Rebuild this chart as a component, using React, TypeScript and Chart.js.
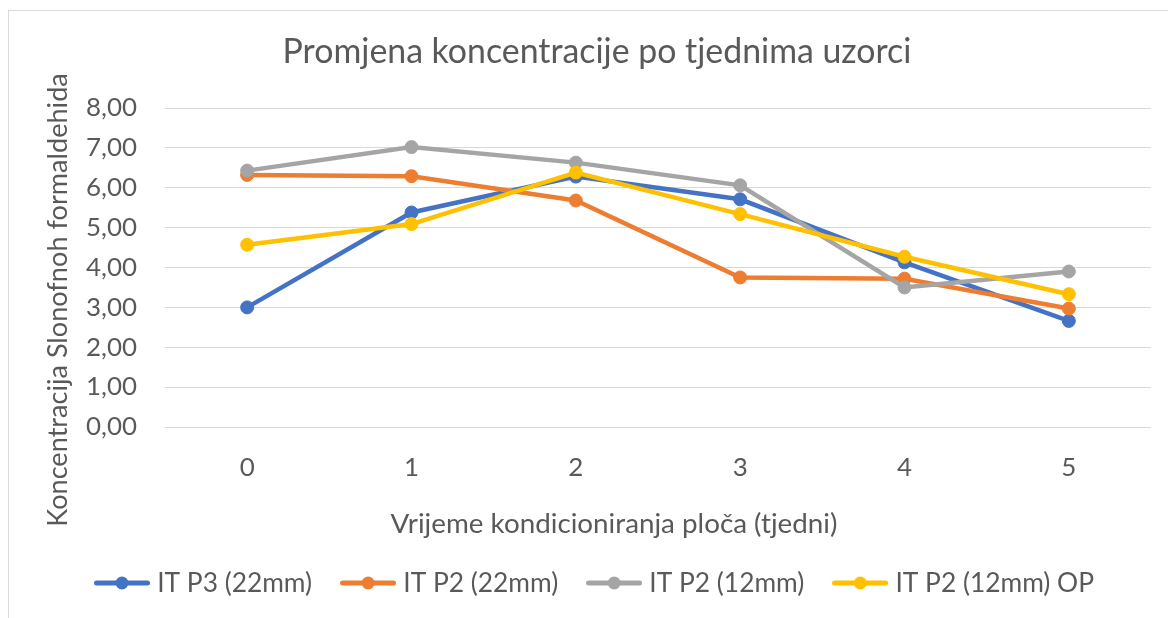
import React, { useEffect, useRef } from "react";
import { Chart, registerables } from "chart.js";

Chart.register(...registerables);

// ---- data ----
const categories = ["0", "1", "2", "3", "4", "5"];
const seriesNames = ["IT P3 (22mm)", "IT P2 (22mm)", "IT P2 (12mm)", "IT P2 (12mm) OP"];
const seriesItP3_22 = [3.0, 5.38, 6.28, 5.71, 4.13, 2.66];
const seriesItP2_22 = [6.32, 6.29, 5.68, 3.75, 3.72, 2.97];
const seriesItP2_12 = [6.43, 7.02, 6.63, 6.06, 3.5, 3.9];
const seriesItP2_12op = [4.57, 5.09, 6.38, 5.34, 4.27, 3.33];
const seriesColors = ["#4472C4", "#ED7D31", "#A5A5A5", "#FFC000"];
const yMin = 0;
const yMax = 8;
const yStep = 1;
const chartTitle = "Promjena koncentracije po tjednima uzorci";
const xAxisTitle = "Vrijeme kondicioniranja ploča (tjedni)";
const yAxisTitle = "Koncentracija Slonofnoh formaldehida";

// ---- style ----
const FONT = "Lato";
const TEXT = "#595959";
const GRID = "#D9D9D9";
const W = 1159;
const H = 607;

function makeLegendImage(color: string): HTMLCanvasElement {
  const c = document.createElement("canvas");
  c.width = 56;
  c.height = 16;
  const g = c.getContext("2d")!;
  g.strokeStyle = color;
  g.lineWidth = 5;
  g.lineCap = "round";
  g.beginPath();
  g.moveTo(2.5, 8);
  g.lineTo(53.5, 8);
  g.stroke();
  g.fillStyle = color;
  g.beginPath();
  g.arc(28, 8, 6.5, 0, Math.PI * 2);
  g.fill();
  return c;
}

export default function App() {
  const ref = useRef<HTMLCanvasElement>(null);

  useEffect(() => {
    let chart: Chart | null = null;
    let cancelled = false;

    const build = () => {
      if (cancelled || !ref.current) return;
      const m = document.createElement("canvas").getContext("2d")!;
      const fit = (text: string, width: number) => {
        m.font = `100px ${FONT}`;
        return (100 * width) / m.measureText(text).width;
      };
      const titleSize = fit(chartTitle, 629);
      const xTitleSize = fit(xAxisTitle, 447);
      const yTitleSize = fit(yAxisTitle, 454);
      const tickSize = fit("8,00", 51);
      const legendSize = fit(seriesNames[0], 155);

      const areaTop = 97;
      const areaBottom = 416;
      const titlePadTop = 41 - 0.6 * titleSize;
      const titlePadBottom = areaTop - titlePadTop - 1.2 * titleSize;
      const legendPad = 34;
      const legendTop = 572 - legendPad - legendSize / 2;
      const legendH = legendSize + legendPad + 10;
      const bottomPad = H - legendTop - legendH;
      const xHeight = legendTop - areaBottom;
      const xTickPad = 457 - areaBottom - 0.6 * tickSize;

      const legendImgs = seriesColors.map(makeLegendImage);
      const seriesData = [seriesItP3_22, seriesItP2_22, seriesItP2_12, seriesItP2_12op];

      const axisTitles = {
        id: "axisTitles",
        afterDraw(c: Chart) {
          const ctx = c.ctx;
          ctx.save();
          ctx.fillStyle = TEXT;
          ctx.textAlign = "center";
          ctx.textBaseline = "middle";
          ctx.font = `${xTitleSize}px ${FONT}`;
          ctx.fillText(xAxisTitle, 605, 513);
          ctx.translate(49, 289);
          ctx.rotate(-Math.PI / 2);
          ctx.font = `${yTitleSize}px ${FONT}`;
          ctx.fillText(yAxisTitle, 0, 0);
          ctx.restore();
        },
      };

      chart = new Chart(ref.current, {
        type: "line",
        data: {
          labels: categories,
          datasets: seriesData.map((d, i) => ({
            label: seriesNames[i],
            data: d,
            borderColor: seriesColors[i],
            backgroundColor: seriesColors[i],
            borderWidth: 4.5,
            pointRadius: 6.5,
            pointBorderWidth: 1,
            pointBorderColor: seriesColors[i],
            pointBackgroundColor: seriesColors[i],
            tension: 0,
            fill: false,
            order: seriesData.length - 1 - i,
          })),
        },
        options: {
          responsive: false,
          animation: false,
          devicePixelRatio: 1,
          layout: { padding: { top: 0, left: 34, right: 17, bottom: bottomPad } },
          plugins: {
            tooltip: { enabled: false },
            title: {
              display: true,
              text: chartTitle,
              color: TEXT,
              font: { family: FONT, size: titleSize, weight: "normal" },
              padding: { top: titlePadTop, bottom: titlePadBottom },
            },
            legend: {
              position: "bottom",
              labels: {
                usePointStyle: true,
                pointStyleWidth: 44,
                padding: legendPad,
                color: TEXT,
                font: { family: FONT, size: legendSize },
                generateLabels: (c: Chart) =>
                  c.data.datasets.map((ds: any, i: number) => ({
                    text: ds.label,
                    fillStyle: seriesColors[i],
                    strokeStyle: seriesColors[i],
                    lineWidth: 0,
                    pointStyle: legendImgs[i],
                    hidden: false,
                    datasetIndex: i,
                    fontColor: TEXT,
                  })),
              },
            },
          },
          scales: {
            x: {
              type: "category",
              offset: true,
              grid: { display: false, drawTicks: false },
              border: { display: false },
              ticks: {
                color: TEXT,
                font: { family: FONT, size: tickSize },
                padding: xTickPad,
                maxRotation: 0,
              },
              afterFit: (s: any) => {
                s.height = xHeight;
              },
            },
            y: {
              min: yMin,
              max: yMax,
              grid: { color: GRID, lineWidth: 1, drawTicks: false },
              border: { display: false },
              ticks: {
                stepSize: yStep,
                color: TEXT,
                padding: 28,
                font: { family: FONT, size: tickSize },
                callback: (v: any) => Number(v).toFixed(2).replace(".", ","),
              },
              afterFit: (s: any) => {
                s.width = 122;
              },
            },
          },
        },
        plugins: [axisTitles],
      } as any);
    };

    document.fonts.load(`20px ${FONT}`).then(build, build);
    return () => {
      cancelled = true;
      if (chart) chart.destroy();
    };
  }, []);

  return (
    <div
      style={{
        position: "absolute",
        left: 8,
        top: 10,
        width: 1160,
        height: 608,
        boxSizing: "border-box",
        borderTop: `1px solid ${GRID}`,
        borderLeft: `1px solid ${GRID}`,
        overflow: "hidden",
        background: "#fff",
      }}
    >
      <canvas ref={ref} width={W} height={H} style={{ display: "block", width: W, height: H }} />
    </div>
  );
}
